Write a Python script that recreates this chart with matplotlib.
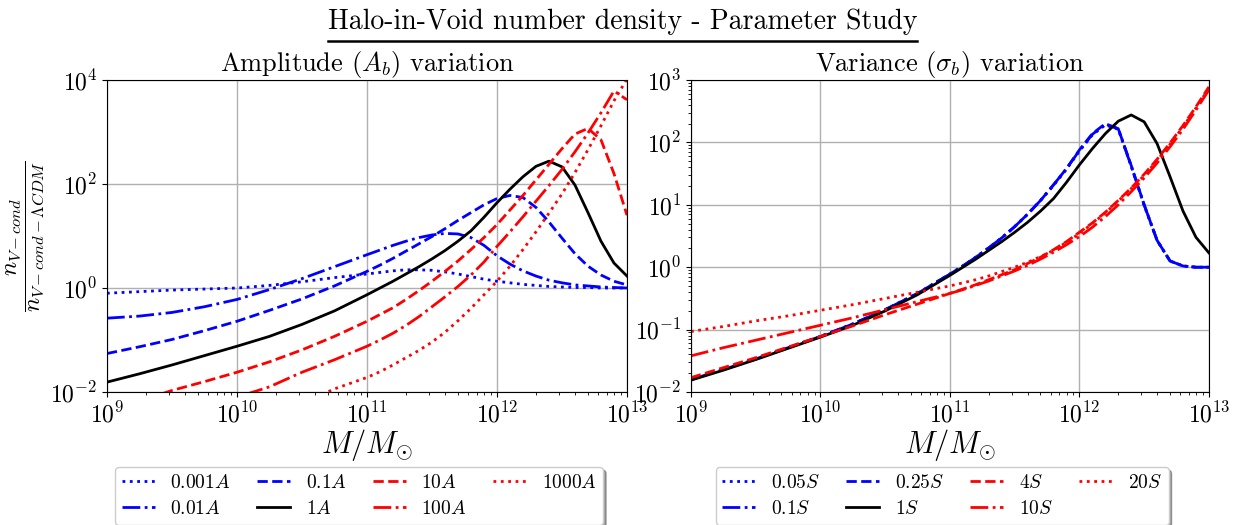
import numpy as np
import matplotlib
matplotlib.use('Agg')
import matplotlib.pyplot as plt
from matplotlib.lines import Line2D
from matplotlib.ticker import LogLocator, NullLocator

plt.rcParams['font.family'] = 'serif'
plt.rcParams['font.serif'] = ['cmr10']
plt.rcParams['mathtext.fontset'] = 'cm'
plt.rcParams['axes.formatter.use_mathtext'] = True
plt.rcParams['axes.unicode_minus'] = False

# log10 of halo mass grid
log_m = [9.0, 9.25, 9.5, 9.75, 10.0, 10.25, 10.5, 10.75, 11.0,
         11.1, 11.2, 11.3, 11.4, 11.5, 11.6, 11.7, 11.8, 11.9, 12.0,
         12.1, 12.2, 12.3, 12.4, 12.5, 12.6, 12.7, 12.8, 12.9, 13.0]

# log10 of n_V-cond / n_V-cond-LCDM, fiducial model (1A = 1S)
fid = [-1.81, -1.65, -1.48, -1.30, -1.12, -0.93, -0.70, -0.44, -0.13,
       0.00, 0.13, 0.27, 0.41, 0.56, 0.72, 0.90, 1.10, 1.36, 1.64,
       1.90, 2.14, 2.34, 2.44, 2.33, 1.98, 1.45, 0.90, 0.48, 0.23]

# amplitude variation
amp_labels = ['0.001A', '0.01A', '0.1A', '1A', '10A', '100A', '1000A']
amp_0p001 = [-0.10, -0.07, -0.04, -0.02, 0.00, 0.05, 0.12, 0.20, 0.27,
             0.30, 0.33, 0.35, 0.35, 0.34, 0.31, 0.27, 0.22, 0.17, 0.13,
             0.10, 0.07, 0.05, 0.03, 0.02, 0.01, 0.01, 0.00, 0.00, 0.00]
amp_0p01 = [-0.58, -0.54, -0.47, -0.36, -0.22, -0.03, 0.18, 0.41, 0.64,
            0.73, 0.82, 0.90, 0.97, 1.02, 1.05, 1.04, 0.97, 0.82, 0.62,
            0.46, 0.33, 0.23, 0.15, 0.10, 0.06, 0.04, 0.02, 0.01, 0.00]
amp_0p1 = [-1.26, -1.13, -0.99, -0.82, -0.64, -0.43, -0.21, 0.04, 0.32,
           0.44, 0.57, 0.71, 0.85, 0.99, 1.14, 1.30, 1.45, 1.60, 1.72,
           1.78, 1.74, 1.55, 1.27, 0.96, 0.66, 0.42, 0.25, 0.13, 0.06]
amp_10 = [-2.38, -2.18, -1.97, -1.80, -1.62, -1.42, -1.19, -0.93, -0.64,
          -0.51, -0.38, -0.22, -0.05, 0.13, 0.32, 0.52, 0.74, 0.97, 1.22,
          1.50, 1.78, 2.08, 2.38, 2.68, 2.96, 3.07, 2.85, 2.20, 1.40]
amp_100 = [-3.00, -2.80, -2.60, -2.35, -2.10, -1.90, -1.62, -1.38, -1.12,
           -1.00, -0.87, -0.72, -0.55, -0.36, -0.17, 0.03, 0.25, 0.50, 0.80,
           1.08, 1.37, 1.67, 1.97, 2.28, 2.62, 2.98, 3.37, 3.79, 3.62]
amp_1000 = [-3.90, -3.60, -3.30, -3.02, -2.75, -2.50, -2.22, -1.94, -1.72,
            -1.61, -1.48, -1.34, -1.20, -1.04, -0.85, -0.63, -0.39, -0.13, 0.13,
            0.42, 0.74, 1.08, 1.44, 1.81, 2.22, 2.66, 3.12, 3.60, 4.02]

# variance variation
var_labels = ['0.05S', '0.1S', '0.25S', '1S', '4S', '10S', '20S']
var_0p05 = [-1.80, -1.64, -1.47, -1.29, -1.11, -0.91, -0.68, -0.42, -0.11,
            0.02, 0.16, 0.31, 0.47, 0.65, 0.85, 1.07, 1.31, 1.57, 1.86,
            2.12, 2.28, 2.21, 1.62, 0.99, 0.43, 0.10, 0.02, 0.00, 0.00]
var_0p1 = [-1.80, -1.64, -1.47, -1.29, -1.11, -0.91, -0.68, -0.42, -0.11,
           0.02, 0.16, 0.31, 0.47, 0.65, 0.85, 1.07, 1.32, 1.58, 1.87,
           2.13, 2.29, 2.22, 1.62, 1.00, 0.43, 0.10, 0.02, 0.00, 0.00]
var_0p25 = [-1.80, -1.64, -1.47, -1.29, -1.11, -0.91, -0.68, -0.42, -0.11,
            0.02, 0.16, 0.31, 0.47, 0.65, 0.85, 1.07, 1.32, 1.58, 1.88,
            2.14, 2.30, 2.22, 1.63, 1.00, 0.43, 0.10, 0.02, 0.00, 0.00]
var_4 = [-1.77, -1.61, -1.45, -1.28, -1.11, -0.94, -0.76, -0.59, -0.42,
         -0.35, -0.28, -0.20, -0.12, -0.04, 0.06, 0.16, 0.28, 0.41, 0.56,
         0.71, 0.88, 1.07, 1.27, 1.49, 1.73, 1.99, 2.27, 2.57, 2.89]
var_10 = [-1.42, -1.29, -1.17, -1.05, -0.93, -0.81, -0.68, -0.55, -0.42,
          -0.36, -0.29, -0.22, -0.14, -0.06, 0.03, 0.13, 0.24, 0.36, 0.49,
          0.64, 0.81, 1.00, 1.21, 1.43, 1.67, 1.93, 2.21, 2.52, 2.84]
var_20 = [-1.03, -0.95, -0.86, -0.78, -0.69, -0.60, -0.50, -0.40, -0.30,
          -0.25, -0.20, -0.14, -0.07, 0.00, 0.08, 0.17, 0.27, 0.40, 0.54,
          0.70, 0.87, 1.06, 1.26, 1.47, 1.71, 1.97, 2.25, 2.55, 2.87]

styles = [('blue', ':'), ('blue', '-.'), ('blue', '--'), ('black', '-'),
          ('red', '--'), ('red', '-.'), ('red', ':')]

mass = 10 ** np.array(log_m)

fig = plt.figure(figsize=(12.45, 5.25), dpi=100)
ax1 = fig.add_axes([0.0859, 0.2533, 0.4177, 0.5943])
ax2 = fig.add_axes([0.555, 0.2533, 0.4160, 0.5943])

amp_series = [amp_0p001, amp_0p01, amp_0p1, fid, amp_10, amp_100, amp_1000]
var_series = [var_0p05, var_0p1, var_0p25, fid, var_4, var_10, var_20]

for ax, series, labels in [(ax1, amp_series, amp_labels), (ax2, var_series, var_labels)]:
    for vals, lab, (c, ls) in zip(series, labels, styles):
        ax.plot(mass, 10 ** np.array(vals), color=c, linestyle=ls, lw=2,
                label='$' + lab + '$')
    ax.set_xscale('log')
    ax.set_yscale('log')
    ax.set_xlim(1e9, 1e13)
    ax.grid(True, which='major', color='#b0b0b0', lw=1)
    ax.set_xlabel(r'$M/M_{\odot}$', fontsize=22, labelpad=0)
    ax.tick_params(labelsize=17)
    ax.legend(loc='upper center', bbox_to_anchor=(0.485, -0.21), ncol=4,
              fontsize=14, shadow=True, handlelength=1.7, columnspacing=1.35,
              labelspacing=0.4, handletextpad=0.8, borderpad=0.35)

ax1.set_ylim(1e-2, 1e4)
ax1.set_yticks([1e-2, 1e0, 1e2, 1e4])
ax1.yaxis.set_minor_locator(NullLocator())
ax2.set_ylim(1e-2, 1e3)
ax2.yaxis.set_major_locator(LogLocator(base=10, numticks=10))

ax1.set_title(r'Amplitude ($A_b$) variation', fontsize=19, pad=6)
ax2.set_title(r'Variance ($\sigma_b$) variation', fontsize=19, pad=6)
ax1.set_ylabel(r'$\dfrac{n_{V-cond}}{n_{V-cond-\Lambda CDM}}$', fontsize=17,
               labelpad=3)

title = fig.text(0.5, 0.958, 'Halo-in-Void number density - Parameter Study',
                 ha='center', va='center', fontsize=20)

# underline the main title
fig.canvas.draw()
bb = title.get_window_extent().transformed(fig.transFigure.inverted())
fig.add_artist(Line2D([bb.x0, bb.x1], [bb.y0 - 0.010, bb.y0 - 0.010],
                      color='black', lw=1.8, transform=fig.transFigure))

fig.savefig('out.png', dpi=100)
